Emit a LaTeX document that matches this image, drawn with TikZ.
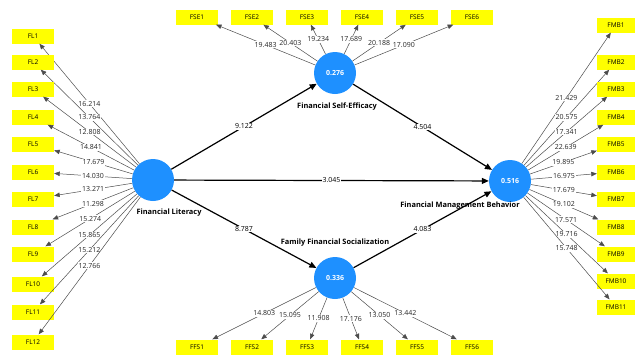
\documentclass[tikz,border=0pt]{standalone}
\usepackage{fontspec}
\setmainfont{Open Sans}
\usetikzlibrary{arrows.meta}
\definecolor{lvblue}{RGB}{30,144,255}
\definecolor{indyellow}{RGB}{255,255,0}
\begin{document}
\begin{tikzpicture}[x=1pt,y=-1pt,
  latent/.style={circle,fill=lvblue,minimum size=42pt,inner sep=0pt,text=white,font=\bfseries\fontsize{7}{8}\selectfont},
  indbox/.style={fill=indyellow,minimum width=42pt,minimum height=15pt,inner sep=0pt,font=\fontsize{6.5}{7}\selectfont},
  fmbbox/.style={indbox,minimum width=38pt},
  load/.style={draw=black!70,line width=0.5pt,-{Triangle[length=5.5pt,width=4.5pt]}},
  structpath/.style={draw=black,line width=1.2pt,-{Triangle[length=7pt,width=6pt]}},
  lbl/.style={fill=white,inner sep=0.8pt,font=\fontsize{7}{8}\selectfont,text=black!85},
  plbl/.style={fill=white,inner sep=0.8pt,font=\fontsize{7}{8}\selectfont,text=black},
  lvname/.style={font=\bfseries\fontsize{7.4}{8}\selectfont}]
\useasboundingbox (0,0) rectangle (636,354);

% latent variables
\node[latent] (FLc) at (153,180) {};
\node[latent] (FSEc) at (335,73) {0.276};
\node[latent] (FFSc) at (335,278) {0.336};
\node[latent] (FMBc) at (510,181) {0.516};

\node[lvname] (FLn) at (169,213) {Financial Literacy};
\node[lvname] (FSEn) at (337,107) {Financial Self-Efficacy};
\node[lvname] (FMBn) at (460,206) {Financial Management Behavior};
\node[lvname] (FFSn) at (335,243) {Family Financial Socialization};

% FL indicators
\foreach \i/\y/\v in {1/36/16.214,2/62/13.764,3/89/12.808,4/117/14.841,5/144/17.679,6/172/14.030,7/199/13.271,8/227/11.298,9/254/15.274,10/284/15.865,11/312/15.212,12/342/12.766}{
  \node[indbox] (FL\i) at (33,\y) {FL\i};
  \draw[load] (FLc) -- node[lbl,pos=0.5] {\v} (FL\i);
}

% FSE indicators
\foreach \i/\x/\v in {1/197/19.483,2/252/20.403,3/307/19.234,4/362/17.689,5/417/20.188,6/472/17.090}{
  \node[indbox] (FSE\i) at (\x,17) {FSE\i};
  \draw[load] (FSEc) -- node[lbl,pos=0.5] {\v} (FSE\i);
}

% FFS indicators
\foreach \i/\x/\v in {1/197/14.803,2/252/15.095,3/307/11.908,4/362/17.176,5/417/13.050,6/472/13.442}{
  \node[indbox] (FFS\i) at (\x,347) {FFS\i};
  \draw[load] (FFSc) -- node[lbl,pos=0.5] {\v} (FFS\i);
}

% FMB indicators
\foreach \i/\y/\v in {1/25/21.429,2/62/20.575,3/89/17.341,4/117/22.639,5/144/19.895,6/172/16.975,7/199/17.679,8/227/19.102,9/254/17.571,10/281/19.716,11/307/15.748}{
  \node[fmbbox] (FMB\i) at (616,\y) {FMB\i};
  \draw[load] (FMBc) -- node[lbl,pos=0.5] {\v} (FMB\i);
}

% structural paths
\draw[structpath] (FLc) -- node[plbl] {9.122} (FSEc);
\draw[structpath] (FLc) -- node[plbl] {3.045} (FMBc);
\draw[structpath] (FLc) -- node[plbl] {8.787} (FFSc);
\draw[structpath] (FSEc) -- node[plbl] {4.504} (FMBc);
\draw[structpath] (FFSc) -- node[plbl] {4.083} (FMBc);
\end{tikzpicture}
\end{document}
